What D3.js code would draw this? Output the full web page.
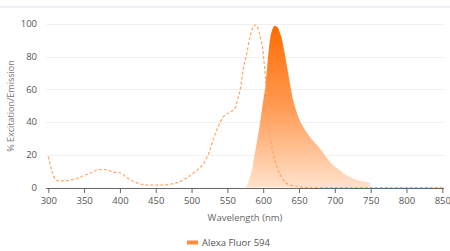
<!DOCTYPE html>
<html><head><meta charset="utf-8">
<script src="https://cdn.jsdelivr.net/npm/d3@7"></script>
<style>
html,body{margin:0;padding:0;background:#fff;}
svg{display:block;font-family:"Open Sans",sans-serif;}
</style></head>
<body><svg id="c" width="450" height="251"></svg>
<script>
const excitationNm = [300,305,310,315,320,330,340,350,360,370,380,390,400,410,420,430,440,450,460,470,480,490,500,510,520,525,530,537,544,553,560,565,568,572,577,581,585,589,593,596,600,604,607,612,619,628,637,649,660,680,700,750,800,850];
const excitationVal = [19,10,5,4,4,4.5,5.5,7.5,9,11,11,9.5,9,6,3.5,2,1.5,1.5,1.5,2,3,5,8,11.5,17,22,29,37,43,46,48,55,60,72,82,91,97,99.5,97,92,82,62,41,25,12.7,4.6,1.5,0.5,0,0,0,0,0,0];
const emissionNm = [575,578,582,585,588,592,596,600,603,607,610,613,616,620,623,626,630,634,638,642,646,650,656,665,675,684,693,703,712,720,726,735,742,749,750];
const emissionVal = [0,2,7,12,20,30,41,53,62,81,92,97,99,98,95,91,82,72,62,53,47,42,37,31,26,21,15.8,11.7,8.7,6.5,5.5,4.2,3.5,2.8,0];
const xTicks = [300,350,400,450,500,550,600,650,700,750,800,850];
const yTicks = [0,20,40,60,80,100];
const seriesName = "Alexa Fluor 594";

const svg = d3.select("#c");
const x = d3.scaleLinear().domain([300,850]).range([48.3,442.3]);
const y = d3.scaleLinear().domain([0,100]).range([187.5,24]);

// top band
svg.append("rect").attr("x",0).attr("y",6).attr("width",450).attr("height",2).attr("fill","#edf1f5");

// gridlines
svg.append("g").selectAll("line").data(yTicks.filter(d=>d>0)).join("line")
  .attr("x1",46).attr("x2",444).attr("y1",d=>Math.round(y(d))+0.5).attr("y2",d=>Math.round(y(d))+0.5)
  .attr("stroke","#f0f0f0").attr("stroke-width",1);

// y labels
svg.append("g").selectAll("text").data(yTicks).join("text")
  .attr("x",37).attr("y",d=>y(d)).attr("dy","0.35em").attr("text-anchor","end")
  .attr("font-size",9.5).attr("fill","#555").text(d=>d);

// gradient
const defs = svg.append("defs");
const grad = defs.append("linearGradient").attr("id","g1").attr("gradientUnits","userSpaceOnUse")
  .attr("x1",0).attr("x2",0).attr("y1",y(100)).attr("y2",y(0));
grad.append("stop").attr("offset","0%").attr("stop-color","#ff6a00");
grad.append("stop").attr("offset","50%").attr("stop-color","#ff9a52");
grad.append("stop").attr("offset","100%").attr("stop-color","#ffe2cc");

const emData = emissionNm.map((d,i)=>[d,emissionVal[i]]);
const exData = excitationNm.map((d,i)=>[d,excitationVal[i]]);

svg.append("path").datum(emData)
  .attr("d", d3.area().x(d=>x(d[0])).y0(y(0)).y1(d=>y(d[1])).curve(d3.curveMonotoneX))
  .attr("fill","url(#g1)");

// x axis
const xa = svg.append("g").attr("transform","translate(0,188)")
  .call(d3.axisBottom(x).tickValues(xTicks).tickSize(5).tickPadding(4).tickSizeOuter(0));
xa.select(".domain").attr("stroke","#666").attr("d","M46,0.5H444");
xa.selectAll(".tick line").attr("stroke","#666");
xa.selectAll(".tick text").attr("font-size",9.5).attr("fill","#555").attr("font-family","Open Sans");

svg.append("path").datum(exData)
  .attr("d", d3.line().x(d=>x(d[0])).y(d=>y(d[1])).curve(d3.curveMonotoneX))
  .attr("fill","none").attr("stroke","#ffa566").attr("stroke-width",1.2).attr("stroke-dasharray","3,2");

// titles
svg.append("text").attr("x",245).attr("y",221).attr("text-anchor","middle")
  .attr("font-size",9.5).attr("fill","#666").text("Wavelength (nm)");
svg.append("text").attr("transform","translate(14,106) rotate(-90)").attr("text-anchor","middle")
  .attr("font-size",9).attr("fill","#777").text("% Excitation/Emission");

// legend
svg.append("rect").attr("x",187).attr("y",240.5).attr("width",11).attr("height",4).attr("fill","#ff8c3a");
svg.append("text").attr("x",202).attr("y",242.5).attr("dy","0.35em").attr("font-size",9.5).attr("fill","#555").text(seriesName);
</script></body></html>
